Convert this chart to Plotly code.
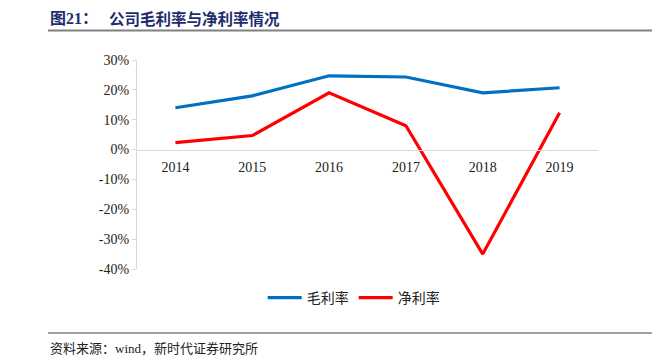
import plotly.graph_objects as go

years = ["2014", "2015", "2016", "2017", "2018", "2019"]
gross_margin = [0.14, 0.18, 0.247, 0.243, 0.19, 0.207]
net_margin = [0.023, 0.047, 0.19, 0.08, -0.35, 0.123]
ytick_vals = [-0.4, -0.3, -0.2, -0.1, 0, 0.1, 0.2, 0.3]
ytick_text = ["-40%", "-30%", "-20%", "-10%", "0%", "10%", "20%", "30%"]

# page offset (browser body margin)
OFF = 8
W, H = 661, 364
# target plot area in screenshot pixels
X0, X1, Y0, Y1 = 137, 598, 60, 269
L, T = X0 - OFF, Y0 - OFF
R = W - (X1 - OFF)
B = H - (Y1 - OFF)
pw, ph = W - L - R, H - T - B

def px(x):
    return (x - X0) / pw

def py(y):
    return (Y1 - y) / ph

fig = go.Figure()
fig.add_trace(go.Scatter(x=years, y=gross_margin, mode="lines", name="毛利率",
                         line=dict(color="#0070C0", width=3.2)))
fig.add_trace(go.Scatter(x=years, y=net_margin, mode="lines", name="净利率",
                         line=dict(color="#FF0000", width=3.2)))

fig.update_layout(
    width=W, height=H,
    margin=dict(l=L, r=R, t=T, b=B, autoexpand=False),
    paper_bgcolor="white", plot_bgcolor="white",
    font=dict(family="Liberation Serif", size=13, color="#222"),
    showlegend=True,
    legend=dict(orientation="h", x=0.47, xanchor="center", y=py(298), yanchor="middle",
                font=dict(family="Noto Sans CJK SC", size=14, color="#222"),
                itemwidth=34, tracegroupgap=0),
    xaxis=dict(type="category", anchor="free", position=0.4/0.7, range=[-0.5, 5.5],
               showline=True, linecolor="#d9d9d9", linewidth=1.3,
               showgrid=False, ticks="", zeroline=False, ticklabelstandoff=4,
               tickfont=dict(family="Liberation Serif", size=14, color="#222")),
    yaxis=dict(range=[-0.4, 0.3], tickvals=ytick_vals, ticktext=ytick_text,
               showgrid=False, zeroline=False, showline=True, linecolor="#d9d9d9",
               linewidth=1.3, ticks="outside", ticklen=4, tickcolor="#d9d9d9",
               tickfont=dict(family="Liberation Serif", size=14, color="#222")),
)

fig.add_annotation(xref="paper", yref="paper", x=px(48), y=py(18.5), xanchor="left", yanchor="middle",
                   text="<b>图21：</b>", showarrow=False,
                   font=dict(family="Liberation Serif, Noto Sans CJK SC", size=16, color="#1F2D6E"))
fig.add_annotation(xref="paper", yref="paper", x=px(107), y=py(18.5), xanchor="left", yanchor="middle",
                   text="<b>公司毛利率与净利率情况</b>", showarrow=False,
                   font=dict(family="Noto Sans CJK SC", size=15.5, color="#1F2D6E"))
fig.add_shape(type="line", xref="paper", yref="paper", x0=px(48), x1=px(652), y0=py(30.5), y1=py(30.5),
              line=dict(color="#808080", width=2))
fig.add_shape(type="line", xref="paper", yref="paper", x0=px(48), x1=px(652), y0=py(333), y1=py(333),
              line=dict(color="#808080", width=1.5))
fig.add_annotation(xref="paper", yref="paper", x=px(48), y=py(347), xanchor="left", yanchor="middle",
                   text="资料来源：<span style='font-family:Liberation Serif'>wind</span>，新时代证券研究所",
                   showarrow=False,
                   font=dict(family="Noto Sans CJK SC", size=13, color="#222"))

fig.write_html("out.html")
